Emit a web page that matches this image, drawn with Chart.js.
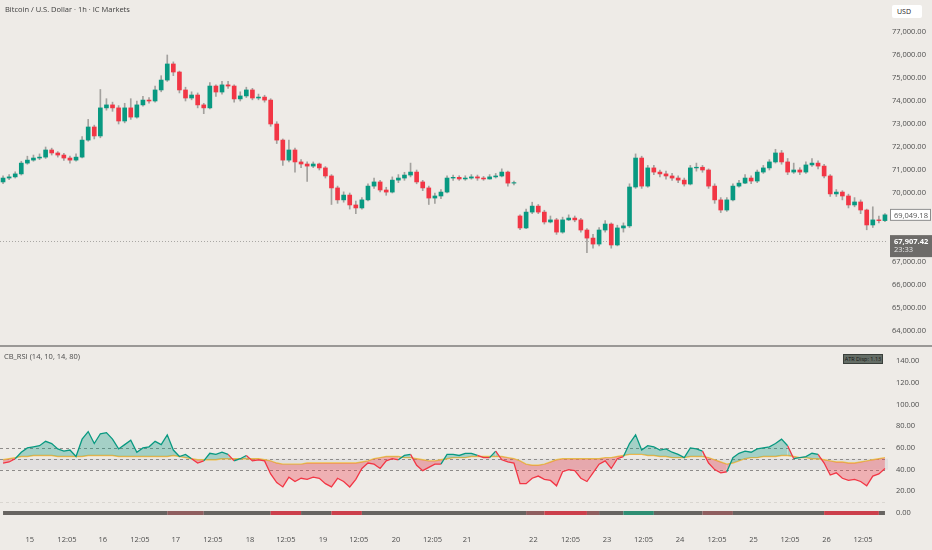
<!DOCTYPE html>
<html>
<head>
<meta charset="utf-8">
<script src="https://cdn.jsdelivr.net/npm/chart.js@4.4.1/dist/chart.umd.min.js"></script>
<style>
  html, body { margin: 0; padding: 0; background: #eeebe7; }
  #wrap { position: relative; width: 932px; height: 550px; overflow: hidden; font-family: "Open Sans", sans-serif; }
  #price { position: absolute; left: 0; top: 0; }
  #osc { position: absolute; left: 0; top: 347px; }
  .sep { position: absolute; left: 0; top: 345px; width: 932px; height: 2px; background: #9a9896; }
  .title { position: absolute; left: 5px; top: 4px; font-size: 7.5px; color: #3c3c3c; }
  .usd { position: absolute; left: 892px; top: 5px; width: 30px; height: 13px; background: #fff; border-radius: 2px;
         font-size: 7px; line-height: 13px; color: #222; text-indent: 5px; }
  .ind { position: absolute; left: 4px; top: 351px; font-size: 7.5px; color: #4a4a4a; }
  .atr { position: absolute; left: 843px; top: 354px; width: 40px; height: 10px; background: #646d66; border: 1px solid #3a3f3b;
         font-size: 5.5px; line-height: 8px; color: #151515; text-align: center; box-sizing: border-box; }
</style>
</head>
<body>
<div id="wrap">
  <canvas id="price" width="932" height="345"></canvas>
  <div class="sep"></div>
  <canvas id="osc" width="932" height="203"></canvas>
  <div class="title">Bitcoin / U.S. Dollar · 1h · IC Markets</div>
  <div class="usd">USD</div>
  <div class="ind">CB_RSI (14, 10, 14, 80)</div>
  <div class="atr">ATR Disp: 1.13</div>
</div>
<script>
// 2h candles, Mar 14 14:00 -> Mar 26
const opens = [70480,70650,70700,70830,71300,71430,71520,71560,71870,71740,
  71650,71520,71430,71560,72300,72870,72480,73700,73830,73700,
  73130,73700,73300,73830,74040,74000,74480,74910,75610,75260,
  74480,74130,74260,73830,73700,74650,74390,74700,74650,74090,
  74220,74480,74130,74170,74040,73000,72300,71430,71870,71350,
  71260,71170,71260,71090,70740,70220,69700,69910,69480,69350,
  69700,70300,70480,70130,70040,70560,70650,70780,70910,70480,
  70220,69780,69870,70040,70650,70680,70610,70650,70700,70650,
  70610,70700,70740,70910,70430,69000,68480,69170,69430,69170,
  68740,68830,68300,68830,68910,68830,68390,68040,67780,68390,
  68650,67740,68480,68570,70260,71520,70300,71090,70910,70830,
  70740,70650,70560,70390,71090,71120,71000,70300,69700,69260,
  69700,70300,70430,70650,70520,70910,71090,71350,71740,71350,
  70910,71000,70910,71220,71300,71170,70740,69960,70040,69870,
  69480,69610,69260,68610,68830,68800];
const highs = [70750,70800,70920,71380,71600,71650,71700,72000,71950,71800,
  71720,71600,71700,72450,73200,72950,74500,74100,73950,73800,
  73900,74100,74000,74200,74150,74650,75100,76000,75700,75300,
  74600,74400,74350,73900,74800,74700,74850,74850,74700,74400,
  74600,74550,74300,74250,74100,73100,72350,72300,71950,71450,
  71350,71350,71300,71150,70800,70300,70050,70000,69650,69800,
  70400,70650,70550,70250,70700,70800,70900,71300,71000,70550,
  70300,70000,70150,70750,70780,70750,70750,70800,70780,70720,
  70800,70850,71050,70950,70520,69050,69300,69600,69500,69250,
  69000,68900,68950,69050,69000,68900,68450,68200,68500,68800,
  68700,68600,68700,70400,71700,71600,71200,71200,71000,70950,
  70850,70750,70650,71200,71300,71200,71050,70400,69800,69800,
  70400,70550,70800,70750,71000,71200,71450,71900,71850,71500,
  71300,71100,71350,71500,71400,71250,70800,70150,70100,69950,
  69800,69700,69300,69400,69000,69100];
const lows = [70400,70580,70650,70780,71250,71380,71450,71500,71650,71560,
  71420,71300,71380,71520,72250,72350,72400,73600,73550,73000,
  73050,73200,73250,73780,73900,73950,74400,74850,75100,74350,
  74000,74050,73700,73450,73650,74200,74300,74550,73950,74000,
  74150,74050,74050,73950,72900,72150,71200,71350,70900,71100,
  70500,71100,71000,70650,69500,69550,69600,69300,69100,69300,
  69650,70200,70050,69900,70000,70450,70550,70700,70400,70100,
  69500,69550,69750,70000,70550,70550,70550,70600,70550,70550,
  70600,70650,70700,70300,70350,68400,68450,69100,69100,68650,
  68700,68200,68250,68800,68750,68300,67400,67600,67700,68300,
  67600,67700,68300,68500,70200,70200,70250,70800,70700,70600,
  70550,70450,70300,70350,70950,70900,70200,69550,69150,69200,
  69650,70250,70400,70400,70450,70850,71000,71300,71250,70800,
  70850,70800,70850,71150,71050,70650,69850,69850,69700,69350,
  69400,69100,68400,68500,68700,68750];
const closes = [70650,70700,70830,71300,71430,71520,71560,71870,71740,71650,
  71520,71430,71560,72300,72870,72480,73700,73830,73700,73130,
  73700,73300,73830,74040,74000,74480,74910,75610,75260,74480,
  74130,74260,73830,73700,74650,74390,74700,74650,74090,74220,
  74480,74130,74170,74040,73000,72300,71430,71870,71350,71260,
  71170,71260,71090,70740,70220,69700,69910,69480,69350,69700,
  70300,70480,70130,70040,70560,70650,70780,70910,70480,70220,
  69780,69870,70040,70650,70680,70610,70650,70700,70650,70610,
  70700,70740,70910,70430,70450,68480,69170,69430,69170,68740,
  68830,68300,68830,68910,68830,68390,68040,67780,68390,68650,
  67740,68480,68570,70260,71520,70300,71090,70910,70830,70740,
  70650,70560,70390,71090,71120,71000,70300,69700,69260,69700,
  70300,70430,70650,70520,70910,71090,71350,71740,71350,70910,
  71000,70910,71220,71300,71170,70740,69960,70040,69870,69480,
  69610,69260,68610,68830,68800,69049.18];
const refPrice = 67907.42;
const countdown = "23:33";

const rsiValues = [46,47,50,56,60,61,62,66,64,59,
  57,58,52,68,75,64,73,74,68,59,
  63,67,56,60,61,66,63,72,58,52,
  54,50,46,48,55,54,56,54,48,50,
  53,48,49,48,36,28,24,33,29,32,
  31,33,32,27,24,32,29,24,31,41,
  46,45,41,48,50,49,53,54,44,39,
  42,45,45,54,54,53,55,55,53,51,
  51,57,49,47,46,27,27,32,34,31,
  30,25,38,40,39,32,29,37,45,48,
  41,50,52,64,72,58,62,61,58,59,
  56,54,51,60,59,57,46,40,37,38,
  51,55,57,56,59,60,61,64,68,62,
  50,51,52,55,54,46,35,37,32,30,
  31,29,25,34,36,41];
const signalValues = [49,50,51,52,52,53,53,53,53,52,
  52,52,52,52,53,53,53,53,53,52,
  52,52,52,52,52,52,52,52,53,52,
  51,50,49,49,49,49,50,50,50,50,
  50,50,50,49,48,46,45,45,45,45,
  46,46,46,46,46,46,46,46,46,47,
  48,50,51,52,52,52,51,51,50,49,
  48,48,49,50,51,51,51,52,52,52,
  52,52,52,51,50,48,45,44,44,45,
  47,49,50,50,50,50,50,50,50,51,
  51,52,53,54,54,54,53,53,52,52,
  51,51,51,52,52,52,51,49,47,45,
  46,48,50,51,51,52,52,52,53,53,
  52,51,51,50,50,49,48,47,47,46,
  46,47,48,49,50,51];
// bottom strip: 0 neutral, 1 bull, -1 weak bear, -2 bear
const trendState = [0,0,0,0,0,0,0,0,0,0,
  0,0,0,0,0,0,0,0,0,0,
  0,0,0,0,0,0,0,-1,-1,-1,
  -1,-1,-1,0,0,0,0,0,0,0,
  0,0,0,0,-2,-2,-2,-2,-2,0,
  0,0,0,0,-2,-2,-2,-2,-2,0,
  0,0,0,0,0,0,0,0,0,0,
  0,0,0,0,0,0,0,0,0,0,
  0,0,0,0,0,0,-1,-1,-1,-2,
  -2,-2,-2,-2,-2,-2,-1,-1,0,0,
  0,0,1,1,1,1,1,0,0,0,
  0,0,0,0,0,-1,-1,-1,-1,-1,
  0,0,0,0,0,0,0,0,0,0,
  0,0,0,0,0,-2,-2,-2,-2,-2,
  -2,-2,-2,-2,0,0];
const levels = [60, 50, 40];

const priceTicks = [64000,65000,66000,67000,70000,71000,72000,73000,74000,75000,76000,77000];
const rsiTicks = [0,20,40,60,80,100,120,140];
const timeTickPos = [4.4,10.5,16.4,22.5,28.4,34.5,40.6,46.5,52.6,58.5,64.6,70.6,76.3,87.2,93.3,99.3,105.3,111.3,117.4,123.4,129.4,135.4,141.4];
const timeTickLabels = ["15","12:05","16","12:05","17","12:05","18","12:05","19","12:05","20","12:05","21","22","12:05","23","12:05","24","12:05","25","12:05","26","12:05"];

const GREEN = "#089981", RED = "#f23645";
const FONT = { family: '"Open Sans", sans-serif', size: 7.5 };
const AXIS_W = 44;
const last = closes.length - 1;

function fmt(v) {
  return v.toLocaleString("en-US", { minimumFractionDigits: 2, maximumFractionDigits: 2 });
}
function fixY(s) { s.width = AXIS_W; s.paddingTop = 0; s.paddingBottom = 0; }

const candleColors = closes.map((c, i) => (c >= opens[i] ? GREEN : RED));

const priceMarks = {
  id: "priceMarks",
  beforeDatasetsDraw(chart) {
    const { ctx, chartArea } = chart;
    const y = Math.round(chart.scales.y.getPixelForValue(refPrice)) + 0.5;
    ctx.save();
    ctx.strokeStyle = "#a9a7a4";
    ctx.lineWidth = 1;
    ctx.setLineDash([1, 2]);
    ctx.beginPath();
    ctx.moveTo(chartArea.left, y);
    ctx.lineTo(chartArea.right, y);
    ctx.stroke();
    ctx.restore();
  },
  afterDraw(chart) {
    const { ctx } = chart;
    const ys = chart.scales.y;
    const x0 = chart.chartArea.right + 2;
    ctx.save();
    ctx.font = '7.5px "Open Sans", sans-serif';
    ctx.textBaseline = "middle";
    // last price
    let y = ys.getPixelForValue(closes[last]);
    ctx.fillStyle = "#ffffff";
    ctx.fillRect(x0, y - 6, 41, 12);
    ctx.strokeStyle = "#8c8c8c";
    ctx.strokeRect(x0 + 0.5, y - 5.5, 40, 11);
    ctx.fillStyle = "#555";
    ctx.fillText(fmt(closes[last]), x0 + 4, y + 0.5);
    // reference price + countdown
    y = ys.getPixelForValue(refPrice);
    ctx.fillStyle = "#6d6b69";
    ctx.fillRect(x0, y - 6, 42, 22);
    ctx.fillStyle = "#ffffff";
    ctx.font = 'bold 7.5px "Open Sans", sans-serif';
    ctx.fillText(fmt(refPrice), x0 + 4, y + 0.5);
    ctx.font = '7.5px "Open Sans", sans-serif';
    ctx.fillStyle = "#e6e6e6";
    ctx.fillText(countdown, x0 + 4, y + 9);
    ctx.restore();
  }
};

new Chart(document.getElementById("price"), {
  type: "bar",
  data: {
    datasets: [
      {
        data: closes.map((c, i) => ({ x: i, y: [lows[i], highs[i]] })),
        backgroundColor: "#a3a19e",
        barThickness: 1,
        grouped: false,
        borderSkipped: false,
        order: 2
      },
      {
        data: closes.map((c, i) => ({ x: i, y: [opens[i], c] })),
        backgroundColor: candleColors,
        barThickness: 4,
        grouped: false,
        borderSkipped: false,
        order: 1
      }
    ]
  },
  options: {
    responsive: false,
    animation: false,
    layout: { padding: 0 },
    plugins: { legend: { display: false }, tooltip: { enabled: false } },
    scales: {
      x: { type: "linear", offset: false, min: -0.5, max: closes.length - 0.5, display: false },
      y: {
        position: "right",
        min: 63391,
        max: 78391,
        grid: { display: false, drawTicks: false },
        border: { display: false },
        afterBuildTicks: s => { s.ticks = priceTicks.map(v => ({ value: v })); },
        afterFit: fixY,
        ticks: { color: "#4d4d4d", font: FONT, padding: 4, callback: v => fmt(v) }
      }
    }
  },
  plugins: [priceMarks]
});

const oscMarks = {
  id: "oscMarks",
  beforeDatasetsDraw(chart) {
    const { ctx, chartArea } = chart;
    const ys = chart.scales.y;
    ctx.save();
    ctx.fillStyle = "rgba(200,200,208,0.35)";
    const y50 = ys.getPixelForValue(50), y40 = ys.getPixelForValue(40);
    ctx.fillRect(chartArea.left, y50, chartArea.right - chartArea.left, y40 - y50);
    ctx.lineWidth = 1;
    ctx.setLineDash([3, 3]);
    ctx.strokeStyle = "#8e8c8a";
    levels.forEach(v => {
      const y = Math.round(ys.getPixelForValue(v)) + 0.5;
      ctx.beginPath();
      ctx.moveTo(chartArea.left, y);
      ctx.lineTo(chartArea.right, y);
      ctx.stroke();
    });
    ctx.strokeStyle = "#d9d6d1";
    const y10 = Math.round(ys.getPixelForValue(10)) + 0.5;
    ctx.beginPath();
    ctx.moveTo(chartArea.left, y10);
    ctx.lineTo(chartArea.right, y10);
    ctx.stroke();
    ctx.restore();
  }
};

const stateColor = { "-2": "#cc3f4b", "-1": "#8f5e5f", "0": "#676461", "1": "#2e8e73" };

new Chart(document.getElementById("osc"), {
  type: "line",
  data: {
    datasets: [
      {
        data: signalValues.map((v, i) => ({ x: i, y: v })),
        borderColor: "#f2c14e",
        borderWidth: 1.4,
        pointRadius: 0,
        fill: false,
        order: 2
      },
      {
        data: rsiValues.map((v, i) => ({ x: i, y: v })),
        borderWidth: 1.3,
        pointRadius: 0,
        borderColor: GREEN,
        segment: {
          borderColor: c => (rsiValues[c.p1DataIndex] >= signalValues[c.p1DataIndex] ? GREEN : RED)
        },
        fill: { target: 0, above: "rgba(8,153,129,0.32)", below: "rgba(242,54,69,0.32)" },
        order: 1
      },
      {
        data: trendState.map((s, i) => ({ x: i, y: 0 })),
        borderWidth: 4,
        pointRadius: 0,
        borderColor: stateColor["0"],
        borderCapStyle: "butt",
        segment: { borderColor: c => stateColor[String(trendState[c.p0DataIndex])] },
        fill: false,
        order: 3
      }
    ]
  },
  options: {
    responsive: false,
    animation: false,
    layout: { padding: 0 },
    plugins: { legend: { display: false }, tooltip: { enabled: false } },
    scales: {
      x: {
        type: "linear",
        offset: false,
        min: -0.5,
        max: closes.length - 0.5,
        grid: { display: false, drawTicks: false },
        border: { display: false },
        afterBuildTicks: s => { s.ticks = timeTickPos.map(v => ({ value: v })); },
        afterFit: s => { s.height = 23; s.paddingLeft = 0; s.paddingRight = 0; },
        ticks: {
          color: "#4d4d4d",
          font: FONT,
          padding: 8,
          autoSkip: false,
          maxRotation: 0,
          callback: (v, i) => timeTickLabels[i]
        }
      },
      y: {
        position: "right",
        min: -12.9,
        max: 152.9,
        grid: { display: false, drawTicks: false },
        border: { display: false },
        afterBuildTicks: s => { s.ticks = rsiTicks.map(v => ({ value: v })); },
        afterFit: fixY,
        ticks: { color: "#4d4d4d", font: FONT, padding: 8, callback: v => v.toFixed(2) }
      }
    }
  },
  plugins: [oscMarks]
});
</script>
</body>
</html>
